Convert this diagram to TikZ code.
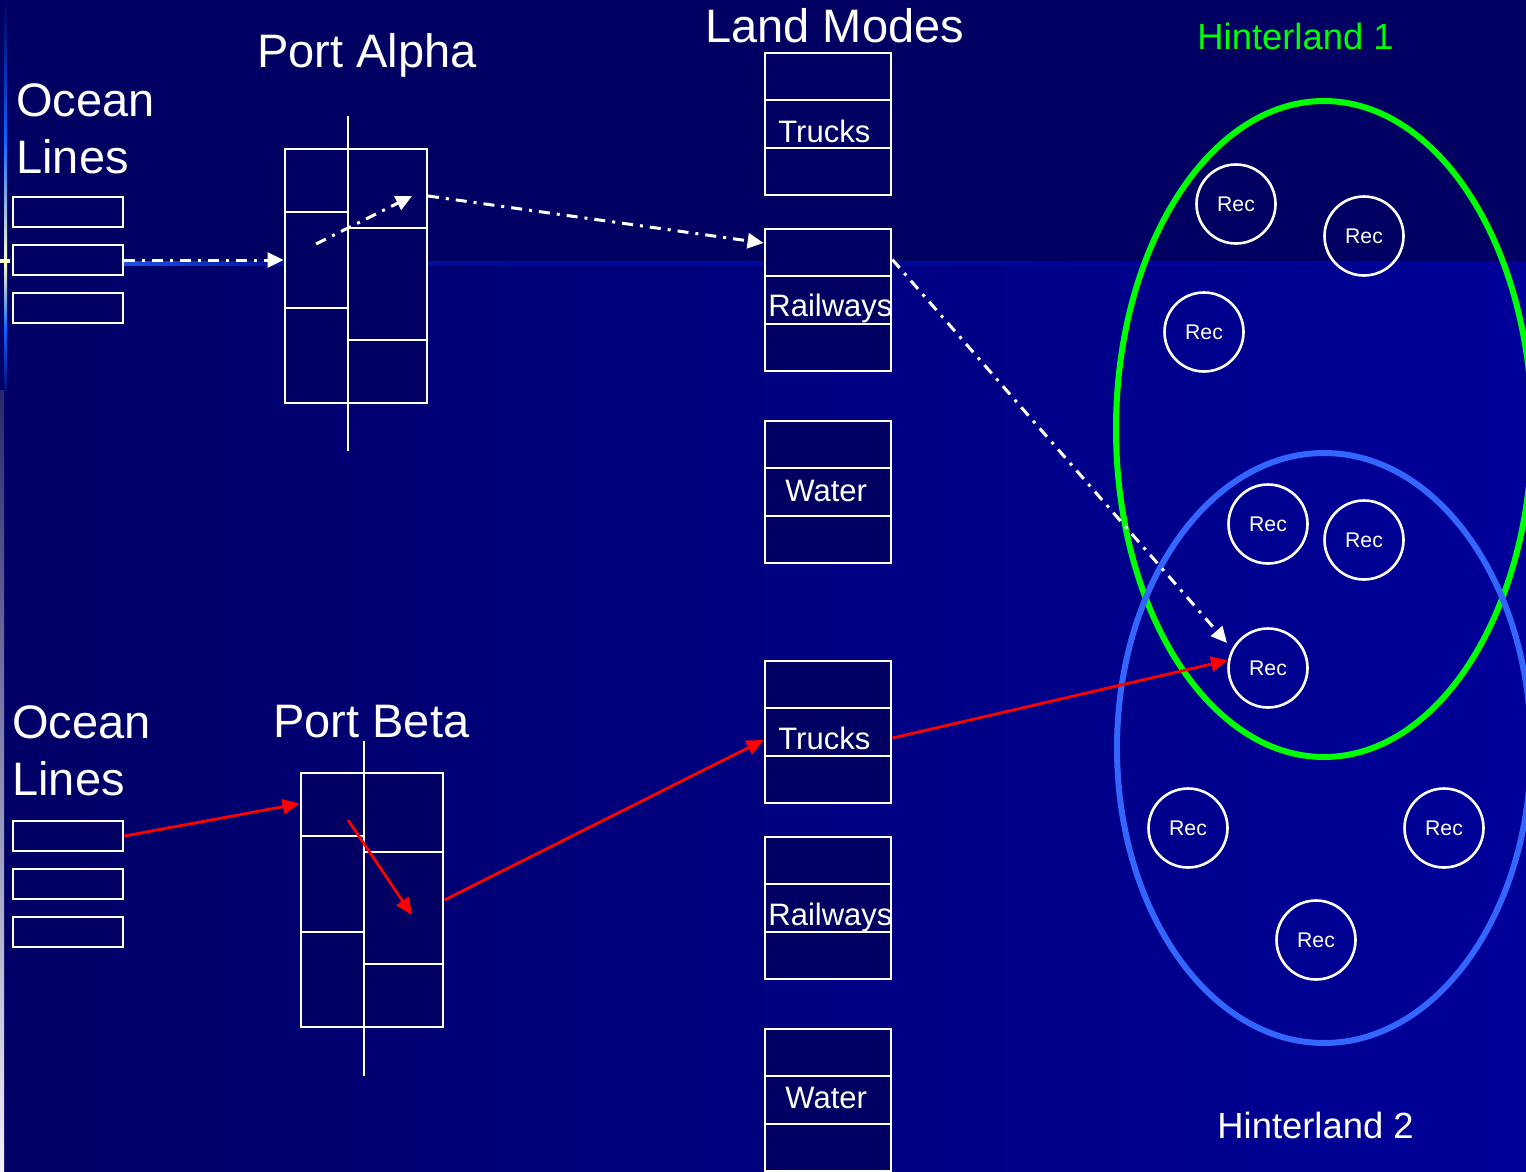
\documentclass[tikz,border=0pt]{standalone}
\usepackage{fontspec}
\setmainfont{Liberation Sans}
\usetikzlibrary{arrows.meta,calc}

\definecolor{bgleft}{RGB}{0,0,102}
\definecolor{bgright}{RGB}{0,0,153}
\definecolor{band}{RGB}{0,0,98}
\definecolor{boxfill}{RGB}{0,0,98}
\definecolor{glowblue}{RGB}{30,80,230}
\definecolor{glowline}{RGB}{0,14,155}
\definecolor{edgeblue}{RGB}{16,96,255}
\definecolor{edgepale}{RGB}{255,255,200}
\definecolor{edgedark}{RGB}{40,40,110}
\definecolor{edgelight}{RGB}{240,240,248}
\definecolor{hgreen}{RGB}{0,255,0}
\definecolor{hblue}{RGB}{51,102,255}
\definecolor{flowred}{RGB}{255,0,0}

\begin{document}
\begin{tikzpicture}[x=0.5pt,y=-0.5pt,
  title/.style={text=white, inner sep=0pt, font=\fontsize{23.5}{28.5}\selectfont},
  hland/.style={inner sep=0pt, font=\fontsize{18.2}{22}\selectfont},
  modelabel/.style={text=white, inner sep=0pt, anchor=base west, font=\fontsize{15.5}{18}\selectfont},
  lanebox/.style={draw=white, fill=boxfill, line width=1.4pt, rectangle, inner sep=0pt,
    minimum width=55pt, minimum height=15pt},
  portbox/.style={draw=white, fill=boxfill, line width=1.4pt, rectangle, inner sep=0pt,
    minimum width=71pt, minimum height=127pt},
  modebox/.style={draw=white, fill=boxfill, line width=1.4pt, rectangle, inner sep=0pt,
    minimum width=63pt, minimum height=71pt},
  cellline/.style={draw=white, line width=1.4pt},
  rec/.style={circle, draw=white, line width=1.3pt, minimum size=39.5pt, inner sep=0pt,
    text=white, font=\fontsize{10.6}{12}\selectfont},
  region/.style={line width=3pt},
  flowdash/.style={draw=white, line width=1.5pt,
    dash pattern=on 5.5pt off 3.5pt on 1.5pt off 3.5pt,
    -{Triangle[length=8pt,width=7.5pt]}},
  flowred/.style={draw=flowred, line width=1.4pt,
    -{Triangle[length=8.5pt,width=7.5pt]}}]

\useasboundingbox (0,0) rectangle (1526,1172);
\clip (0,0) rectangle (1526,1172);

% background: blue gradient with a darker band along the top
\fill[left color=bgleft, right color=bgright] (0,0) rectangle (1526,1172);
\fill[band] (0,0) rectangle (1526,262);
\fill[left color=glowblue, right color=glowline] (124,261) rectangle (284,265);
\fill[left color=glowline, right color=bgright] (284,261) rectangle (1526,265);

% left edge strip
\fill[top color=edgedark, bottom color=edgelight] (0,390) rectangle (4,1172);
\fill[top color=band, bottom color=edgeblue] (4,0) rectangle (7,140);
\fill[top color=edgeblue, bottom color=edgepale] (4,140) rectangle (7,262);
\fill[top color=edgepale, bottom color=edgeblue] (4,262) rectangle (7,330);
\fill[top color=edgeblue, bottom color=bgleft] (4,330) rectangle (7,400);
\fill[edgepale] (0,259) rectangle (10,263);

% titles
\node[title, anchor=north west, align=left] (oceanA) at (16,83) {Ocean\\Lines};
\node[title, anchor=north west, align=left] (oceanB) at (12,705) {Ocean\\Lines};
\node[title, anchor=base west] (portAlabel) at (257,68) {Port Alpha};
\node[title, anchor=base west] (portBlabel) at (273,737) {Port Beta};
\node[title, anchor=base west] (modeslabel) at (705,43) {Land Modes};
\node[hland, text=hgreen, anchor=base west] (h1label) at (1197,50) {Hinterland 1};
\node[hland, text=white, anchor=base west] (h2label) at (1217,1138) {Hinterland 2};

% ocean line slots
\node[lanebox] (oa1) at (68,212) {};
\node[lanebox] (oa2) at (68,260) {};
\node[lanebox] (oa3) at (68,308) {};
\node[lanebox] (ob1) at (68,836) {};
\node[lanebox] (ob2) at (68,884) {};
\node[lanebox] (ob3) at (68,932) {};

% Port Alpha
\node[portbox] (pa) at (356,276) {};
\draw[cellline] (348,116) -- (348,451);
\draw[cellline] (285,212) -- (348,212);
\draw[cellline] (285,308) -- (348,308);
\draw[cellline] (348,228) -- (427,228);
\draw[cellline] (348,340) -- (427,340);

% Port Beta
\node[portbox] (pb) at (372,900) {};
\draw[cellline] (364,741) -- (364,1076);
\draw[cellline] (301,836) -- (364,836);
\draw[cellline] (301,932) -- (364,932);
\draw[cellline] (364,852) -- (443,852);
\draw[cellline] (364,964) -- (443,964);

% land mode stacks
\foreach \n/\y in {m1/124, m2/300, m3/492, m4/732, m5/908, m6/1100} {
  \node[modebox] (\n) at (828,\y) {};
  \draw[cellline] (765,\y-24) -- (891,\y-24);
  \draw[cellline] (765,\y+24) -- (891,\y+24);
}
\node[modelabel] (t1) at (778,142) {Trucks};
\node[modelabel] (rw1) at (768,316) {Railways};
\node[modelabel] (w1) at (785,501) {Water};
\node[modelabel] (t2) at (778,749) {Trucks};
\node[modelabel] (rw2) at (768,925) {Railways};
\node[modelabel] (w2) at (785,1108) {Water};

% hinterland regions
\draw[region, hgreen] (1324,429) ellipse [x radius=104pt, y radius=164pt];
\draw[region, hblue] (1324,748) ellipse [x radius=103.5pt, y radius=147.5pt];

% receivers
\node[rec] (r1) at (1236,204) {Rec};
\node[rec] (r2) at (1364,236) {Rec};
\node[rec] (r3) at (1204,332) {Rec};
\node[rec] (r4) at (1268,524) {Rec};
\node[rec] (r5) at (1364,540) {Rec};
\node[rec] (r6) at (1268,668) {Rec};
\node[rec] (r7) at (1188,828) {Rec};
\node[rec] (r8) at (1444,828) {Rec};
\node[rec] (r9) at (1316,940) {Rec};

% flow through Port Alpha (dash-dot)
\coordinate (paIn) at (316,244);
\coordinate (paMid) at (412,196);
\coordinate (paOut) at (428,196);
\coordinate (recIn) at (1227,643);
\draw[flowdash] (oa2.east) -- (oa2.east -| pa.west);
\draw[flowdash] (paIn) -- (paMid);
\draw[flowdash] (paOut) -- ($(m2.west)+(0,-57)$);
\draw[flowdash] ($(m2.north east)+(0,32)$) -- (recIn);

% flow through Port Beta (red)
\coordinate (pbIn) at (348,820);
\coordinate (pbMid) at (412,915);
\draw[flowred] (ob1.east) -- ($(pb.north west)+(0,32)$);
\draw[flowred] (pbIn) -- (pbMid);
\draw[flowred] (pb.east) -- ($(m4.west)+(0,8)$);
\draw[flowred] ($(m4.east)+(0,6)$) -- (r6.169);

\end{tikzpicture}
\end{document}
